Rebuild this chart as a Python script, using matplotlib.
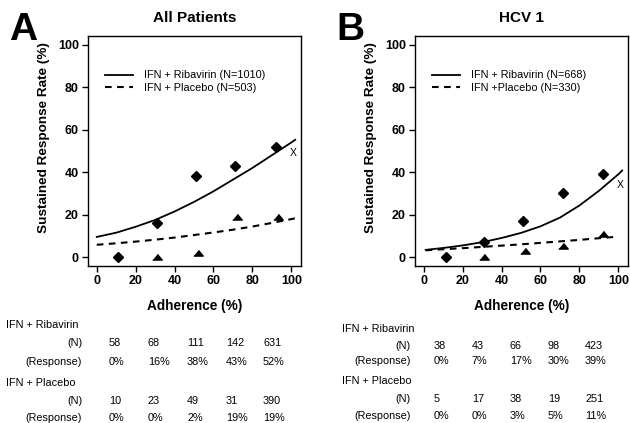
import numpy as np
import matplotlib
matplotlib.use('Agg')
import matplotlib.pyplot as plt

plt.rcParams['font.family'] = ['Liberation Sans', 'DejaVu Sans']

# adherence groups (x position of the plotted points)
a_rib_x = [11, 31, 51, 71, 92]
a_pla_x = [11, 31, 52, 72, 93]
b_rib_x = [11.5, 31, 51, 71.5, 92]
b_pla_x = [11.5, 31, 52, 71.5, 92]

# table values, panel A (all patients)
a_rib_n = [58, 68, 111, 142, 631]
a_rib_resp = [0, 16, 38, 43, 52]
a_pla_n = [10, 23, 49, 31, 390]
a_pla_resp = [0, 0, 2, 19, 19]

# table values, panel B (HCV 1)
b_rib_n = [38, 43, 66, 98, 423]
b_rib_resp = [0, 7, 17, 30, 39]
b_pla_n = [5, 17, 38, 19, 251]
b_pla_resp = [0, 0, 3, 5, 11]

# fitted curves
a_fit_x = [0, 10, 20, 30, 40, 50, 60, 70, 80, 90, 100, 102]
a_rib_fit = [9.5, 11.5, 14.3, 17.5, 21.5, 26, 31, 36.5, 42, 48, 54, 55.3]
a_pla_fit = [5.8, 6.5, 7.3, 8.2, 9.2, 10.4, 11.6, 12.9, 14.4, 16.1, 17.9, 18.3]

b_fit_x = [1, 10, 20, 30, 40, 50, 60, 70, 80, 90, 100, 102]
b_rib_fit = [3.4, 4.3, 5.5, 7.0, 9.0, 11.4, 14.5, 18.6, 24.3, 31.2, 39, 40.8]
b_pla_x_fit = [1, 10, 20, 30, 40, 50, 60, 70, 80, 90, 99.5]
b_pla_fit = [3.2, 3.7, 4.2, 4.8, 5.4, 6.0, 6.7, 7.4, 8.1, 8.9, 9.6]

# "X" marks at the right of each panel
a_xmark = (100.8, 49)
b_xmark = (101, 34)

W, H = 630, 423
fig = plt.figure(figsize=(6.3, 4.23), dpi=100)

tri = [(-1, -0.55), (1, -0.55), (0, 0.65)]


def px(x, y):
    return x / W, 1 - y / H


def panel(left, title, letter, rib_x, rib_y, pla_x, pla_y,
          fx_r, fy_r, fx_p, fy_p, xmark, labels):
    ax = fig.add_axes([left / W, (H - 266) / H, 213 / W, 230 / H])
    ax.plot(fx_r, fy_r, color='black', lw=1.3, label=labels[0])
    ax.plot(fx_p, fy_p, color='black', lw=1.5, ls=(0, (3.2, 2.6)), label=labels[1])
    ax.plot(pla_x[1:], pla_y[1:], ls='none', marker=tri, ms=6.8, color='black')
    ax.plot(rib_x, rib_y, ls='none', marker='D', ms=5, color='black')
    ax.text(xmark[0], xmark[1], 'X', fontsize=7.5, ha='center', va='center')
    ax.set_xlim(-4.5, 105)
    ax.set_ylim(-4.2, 104.2)
    ax.set_xticks([0, 20, 40, 60, 80, 100])
    ax.set_yticks([0, 20, 40, 60, 80, 100])
    ax.tick_params(direction='out', length=4.5, width=1, labelsize=9, pad=2)
    for lab in ax.get_xticklabels() + ax.get_yticklabels():
        lab.set_fontweight('bold')
    for s in ax.spines.values():
        s.set_linewidth(1)
    ax.set_ylabel('Sustained Response Rate (%)', fontsize=9.7, fontweight='bold')
    ax.yaxis.set_label_coords(-0.178, 0.557)
    ax.legend(loc='upper left', bbox_to_anchor=(0.08, 0.85), frameon=False,
              fontsize=7.8, handlelength=2.6, handletextpad=1.0,
              labelspacing=0.25, borderpad=0, borderaxespad=0)
    cx = left + 213 / 2
    fig.text(*px(cx, 18), title, fontsize=11, fontweight='bold', ha='center', va='center')
    fig.text(*px(left - 65, 30), letter, fontsize=28, fontweight='bold', ha='center', va='center')
    fig.text(*px(cx, 306), 'Adherence (%)', fontsize=9.8, fontweight='bold', ha='center', va='center')
    return ax


panel(88, 'All Patients', 'A', a_rib_x, a_rib_resp, a_pla_x, a_pla_resp,
      a_fit_x, a_rib_fit, a_fit_x, a_pla_fit, a_xmark,
      ['IFN + Ribavirin (N=1010)', 'IFN + Placebo (N=503)'])
panel(415, 'HCV 1', 'B', b_rib_x, b_rib_resp, b_pla_x, b_pla_resp,
      b_fit_x, b_rib_fit, b_pla_x_fit, b_pla_fit, b_xmark,
      ['IFN + Ribavirin (N=668)', 'IFN +Placebo (N=330)'])


def table(x_head, x_lab, cols, rows_y, rib_n, rib_resp, pla_n, pla_resp):
    fs = 7.8
    fig.text(*px(x_head, rows_y[0]), 'IFN + Ribavirin', fontsize=fs, ha='left', va='center')
    fig.text(*px(x_lab, rows_y[1]), '(N)', fontsize=fs, ha='right', va='center')
    fig.text(*px(x_lab, rows_y[2]), '(Response)', fontsize=fs, ha='right', va='center')
    fig.text(*px(x_head, rows_y[3]), 'IFN + Placebo', fontsize=fs, ha='left', va='center')
    fig.text(*px(x_lab, rows_y[4]), '(N)', fontsize=fs, ha='right', va='center')
    fig.text(*px(x_lab, rows_y[5]), '(Response)', fontsize=fs, ha='right', va='center')
    for c, n1, r1, n2, r2 in zip(cols, rib_n, rib_resp, pla_n, pla_resp):
        fig.text(*px(c, rows_y[1]), str(n1), fontsize=fs, ha='left', va='center')
        fig.text(*px(c, rows_y[2]), f'{r1}%', fontsize=fs, ha='left', va='center')
        fig.text(*px(c, rows_y[4]), str(n2), fontsize=fs, ha='left', va='center')
        fig.text(*px(c, rows_y[5]), f'{r2}%', fontsize=fs, ha='left', va='center')


table(6, 82, [109, 148, 187, 226, 263], [325, 343, 362, 383, 401, 418],
      a_rib_n, a_rib_resp, a_pla_n, a_pla_resp)
table(342, 411, [434, 472, 510, 548, 585], [329, 346, 361, 381, 399, 416],
      b_rib_n, b_rib_resp, b_pla_n, b_pla_resp)

fig.savefig('out.png', dpi=100)
